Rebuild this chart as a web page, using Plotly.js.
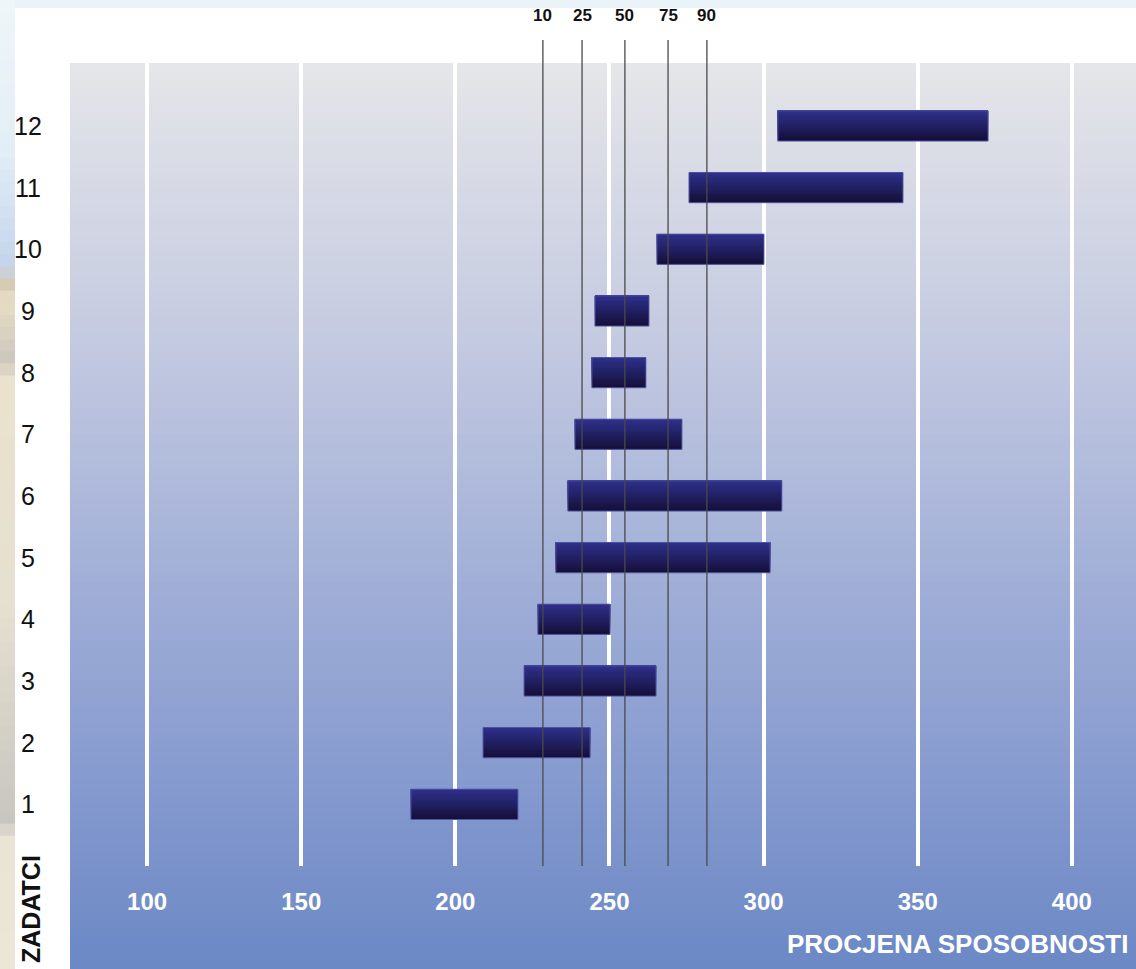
<!DOCTYPE html>
<html>
<head>
<meta charset="utf-8">
<script src="https://cdn.plot.ly/plotly-3.0.1.min.js"></script>
<style>
  html, body { margin: 0; padding: 0; background: #ffffff; }
  #chart { width: 1136px; height: 969px; }
</style>
</head>
<body>
<div id="chart"></div>
<script>
// ---------------- DATA ----------------
const tasks = [1, 2, 3, 4, 5, 6, 7, 8, 9, 10, 11, 12];
const taskLabels = ['1', '2', '3', '4', '5', '6', '7', '8', '9', '10', '11', '12'];
const rangeLow  = [185.6, 209.0, 222.3, 226.8, 232.6, 236.5, 238.8, 244.3, 245.3, 265.4, 275.8, 304.6];
const rangeHigh = [220.3, 243.7, 265.1, 250.2, 302.1, 305.9, 273.5, 261.8, 262.8, 300.1, 345.2, 372.8];
const percentiles = [10, 25, 50, 75, 90];
const percentileScores = [228.4, 241.1, 255.0, 269.0, 281.6];
const xTickVals = [100, 150, 200, 250, 300, 350, 400];
const xTitle = 'PROCJENA SPOSOBNOSTI';
const yTitle = 'ZADATCI';

// ---------------- STYLE HELPERS ----------------
const W = 1136, H = 969;
const M = { l: 70, r: 0, t: 63, b: 103 };
const plotH = H - M.t - M.b, plotW = W - M.l - M.r;
const py = p => (H - M.b - p) / plotH;   // pixel y -> paper y
const px = p => (p - M.l) / plotW;       // pixel x -> paper x

function lerp(a, b, t) { return a + (b - a) * t; }
function interpStops(stops, t) {
  for (let i = 0; i < stops.length - 1; i++) {
    const [t0, c0] = stops[i], [t1, c1] = stops[i + 1];
    if (t <= t1) {
      const f = (t - t0) / (t1 - t0);
      return 'rgb(' + c0.map((v, k) => Math.round(lerp(v, c1[k], f))).join(',') + ')';
    }
  }
  const c = stops[stops.length - 1][1];
  return 'rgb(' + c.join(',') + ')';
}

const shapes = [];
// background gradient of the panel (pixel rows 63..969); each strip runs to the bottom so no seams appear
const bgStops = [[63, [229, 230, 233]], [300, [201, 206, 226]], [560, [164, 177, 216]], [800, [131, 152, 206]], [969, [107, 136, 197]]];
const nStrip = 110;
for (let i = 0; i < nStrip; i++) {
  const p0 = 63 + (969 - 63) * i / nStrip;
  const p1 = 63 + (969 - 63) * (i + 1) / nStrip;
  shapes.push({
    type: 'rect', xref: 'paper', yref: 'paper', layer: 'below',
    x0: px(70), x1: px(1136), y0: py(969), y1: py(p0),
    fillcolor: interpStops(bgStops, (p0 + p1) / 2), line: { width: 0 }
  });
}
// thin decorative top strip
shapes.push({ type: 'rect', xref: 'paper', yref: 'paper', layer: 'below',
  x0: px(0), x1: px(1136), y0: py(8), y1: py(0), fillcolor: '#eaf3f7', line: { width: 0 } });
// decorative left strip (photo edge)
const stripStops = [[0, [238, 246, 249]], [150, [226, 238, 246]], [265, [196, 212, 236]], [285, [214, 204, 180]], [300, [232, 222, 196]], [360, [205, 200, 190]], [380, [234, 226, 205]], [600, [230, 224, 208]], [820, [200, 198, 192]], [840, [234, 228, 212]], [969, [236, 230, 214]]];
for (let i = 0; i < 80; i++) {
  const p0 = 969 * i / 80, p1 = 969 * (i + 1) / 80;
  shapes.push({ type: 'rect', xref: 'paper', yref: 'paper', layer: 'below',
    x0: px(0), x1: px(15), y0: py(969), y1: py(p0),
    fillcolor: interpStops(stripStops, (p0 + p1) / 2), line: { width: 0 } });
}
// percentile reference lines
percentileScores.forEach(v => {
  shapes.push({ type: 'line', xref: 'x', yref: 'paper', layer: 'above',
    x0: v, x1: v, y0: 0, y1: py(40), line: { color: '#4a4a4a', width: 1.3 } });
});

// ---------------- TRACES ----------------
const barW = 0.49;
const nLayer = 14;
const barBottom = [20, 15, 56], barTop = [47, 49, 142];
const traces = [];
const spans = rangeHigh.map((h, i) => h - rangeLow[i]);
for (let k = 0; k < nLayer; k++) {
  const f = k / nLayer;
  const c = barBottom.map((v, j) => Math.round(lerp(v, barTop[j], Math.pow(f, 0.9))));
  traces.push({
    type: 'bar', orientation: 'h', y: tasks, x: spans, base: rangeLow,
    width: barW * (1 - f), offset: -barW / 2 + barW * f,
    marker: { color: 'rgb(' + c.join(',') + ')', line: { width: 0 } },
    hoverinfo: 'skip', showlegend: false
  });
}
traces.push({
  type: 'bar', orientation: 'h', y: tasks, x: spans, base: rangeLow,
  width: barW, offset: -barW / 2,
  marker: { color: 'rgba(0,0,0,0)', line: { width: 1, color: '#4f53a3' } },
  customdata: rangeHigh,
  hovertemplate: 'Zadatak %{y}: %{base:.0f} – %{customdata:.0f}<extra></extra>',
  showlegend: false
});

// ---------------- ANNOTATIONS ----------------
const annotations = [];
tasks.forEach((t, i) => annotations.push({
  xref: 'paper', yref: 'y', x: px(28), y: t, text: taskLabels[i],
  showarrow: false, xanchor: 'center', yanchor: 'middle',
  font: { family: 'Liberation Sans, Arial, sans-serif', size: 25, color: '#111111' }
}));
percentiles.forEach((p, i) => annotations.push({
  xref: 'x', yref: 'paper', x: percentileScores[i], y: py(16), text: String(p),
  showarrow: false, xanchor: 'center', yanchor: 'middle',
  font: { family: 'Liberation Sans, Arial, sans-serif', size: 17, color: '#111111', weight: 'bold' }
}));
annotations.push({
  xref: 'paper', yref: 'paper', x: px(1130), y: py(944), text: xTitle,
  showarrow: false, xanchor: 'right', yanchor: 'middle',
  font: { family: 'Liberation Sans, Arial, sans-serif', size: 26, color: '#ffffff', weight: 'bold' }
});
annotations.push({
  xref: 'paper', yref: 'paper', x: px(31), y: py(909), text: yTitle, textangle: -90,
  showarrow: false, xanchor: 'center', yanchor: 'middle',
  font: { family: 'Liberation Sans, Arial, sans-serif', size: 25, color: '#111111', weight: 'bold' }
});

// ---------------- LAYOUT ----------------
const layout = {
  width: W, height: H,
  margin: M,
  paper_bgcolor: '#ffffff',
  plot_bgcolor: 'rgba(0,0,0,0)',
  barmode: 'overlay',
  showlegend: false,
  xaxis: {
    range: [75, 420.8], tickvals: xTickVals, ticktext: xTickVals.map(String),
    showgrid: true, gridcolor: '#ffffff', gridwidth: 4,
    zeroline: false, showline: false, ticks: '',
    ticklabelstandoff: 19,
    tickfont: { family: 'Liberation Sans, Arial, sans-serif', size: 24, color: '#ffffff', weight: 'bold' },
    fixedrange: true
  },
  yaxis: {
    range: [0.0, 13.02], showgrid: false, zeroline: false, showline: false,
    showticklabels: false, ticks: '', fixedrange: true
  },
  shapes: shapes,
  annotations: annotations
};

Plotly.newPlot('chart', traces, layout, { displayModeBar: false, responsive: false });
</script>
</body>
</html>
